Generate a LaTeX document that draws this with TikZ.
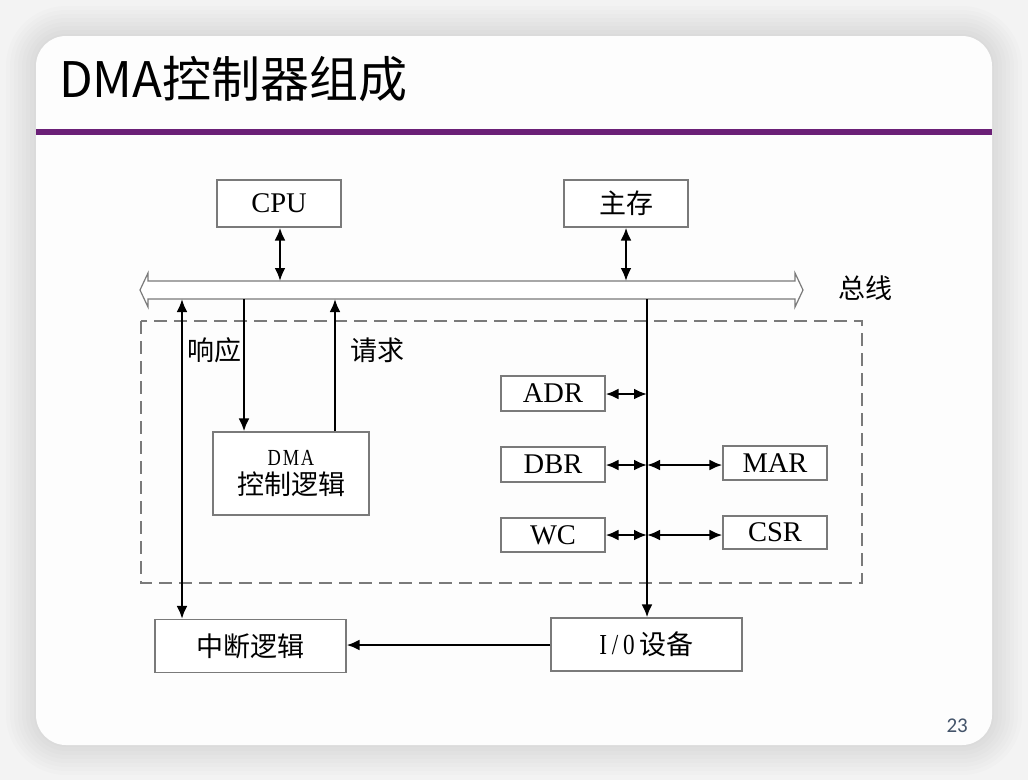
\documentclass[tikz,border=0pt]{standalone}
\usepackage{fontspec}
\setmainfont{Liberation Serif}
\newfontfamily\cjk{Noto Sans CJK SC}
\newfontfamily\halfw[FakeStretch=0.8,LetterSpace=8]{Liberation Serif}
\newfontfamily\pgnum{Carlito}
\usetikzlibrary{arrows.meta}
\definecolor{slidebg}{HTML}{F3F3F3}
\definecolor{cardbg}{HTML}{FDFDFD}
\definecolor{titlebar}{HTML}{6B2077}
\definecolor{boxline}{HTML}{7A7A7A}
\definecolor{pagenum}{HTML}{44546A}
\tikzset{
  blk/.style={draw=boxline, line width=1.3pt, fill=white, inner sep=0pt, font=\fontsize{28.5}{30}\selectfont},
  cblk/.style={blk, font=\cjk\fontsize{27}{30}\selectfont},
  conn/.style={line width=2.3pt, draw=black},
  tip/.style={-{Latex[length=13pt,width=11pt]}},
  dtip/.style={{Latex[length=13pt,width=11pt]}-{Latex[length=13pt,width=11pt]}},
  lbl/.style={font=\cjk\fontsize{27}{30}\selectfont, inner sep=0pt},
}
\begin{document}
\begin{tikzpicture}[x=1pt,y=-1pt]
\useasboundingbox (0,0) rectangle (1028,780);
\fill[slidebg] (0,0) rectangle (1028,780);
% soft shadow
\foreach \s in {30,26,...,2}{
  \fill[black, opacity=0.012, rounded corners=30pt+\s pt] (36-\s,36-\s) rectangle (992+\s,745+\s);
}
\fill[cardbg, rounded corners=30pt] (36,36) rectangle (992,745);
% title
\node[anchor=west, inner sep=0pt, font=\cjk\fontsize{49}{52}\selectfont] (title) at (59,79) {DMA控制器组成};
\fill[titlebar] (36,129) rectangle (992,135);
\node[anchor=east, inner sep=0pt, text=pagenum, font=\pgnum\fontsize{21}{23}\selectfont] (pg) at (968,726) {23};

% bus
\coordinate (bL) at (140,290);
\coordinate (bR) at (803,290);
\draw[boxline, line width=1.2pt, fill=white, line join=miter]
  (bL) -- (148,273) -- (148,281) -- (795,281) -- (795,273) -- (bR)
  -- (795,307) -- (795,299) -- (148,299) -- (148,307) -- cycle;
\node[lbl] (zx) at (865,288) {总线};

% dashed frame
\draw[boxline, line width=2pt, dash pattern=on 13pt off 7pt] (141,321) rectangle (862,583);

% boxes
\node[blk, minimum width=124pt, minimum height=47pt] (cpu) at (279,203.5) {CPU};
\node[cblk, minimum width=124pt, minimum height=47pt] (mem) at (626,203.5) {主存};
\node[blk, minimum width=156pt, minimum height=83pt, align=center] (dma) at (291,473.5)
  {{\halfw\fontsize{23}{26}\selectfont DMA}\\[-1pt]{\cjk\fontsize{27}{30}\selectfont 控制逻辑}};
\node[cblk, minimum width=191pt, minimum height=53pt] (intr) at (250.5,646) {中断逻辑};
\node[cblk, minimum width=191pt, minimum height=53pt] (io) at (646.5,644.5) {{\halfw\fontsize{29}{30}\selectfont I\,/\,0\,}设备};
\node[blk, minimum width=104pt, minimum height=35pt] (adr) at (553,393.5) {ADR};
\node[blk, minimum width=104pt, minimum height=35pt] (dbr) at (553,464.5) {DBR};
\node[blk, minimum width=104pt, minimum height=34pt] (wc) at (553,535) {WC};
\node[blk, minimum width=104pt, minimum height=34pt] (mar) at (775,463) {MAR};
\node[blk, minimum width=104pt, minimum height=33pt] (csr) at (775,532.5) {CSR};

% bus attach points
\coordinate (cpuB) at (280,281);
\coordinate (memB) at (626,281);
\coordinate (intB) at (182,299);
\coordinate (ackB) at (244,299);
\coordinate (reqB) at (335,299);
\coordinate (ioB) at (647,299);
\coordinate (jA) at (647,394);
\coordinate (jD) at (647,465);
\coordinate (jW) at (647,535);

% connectors
\draw[conn, dtip] (cpu.south -| cpuB) -- (cpuB);
\draw[conn, dtip] (mem.south -| memB) -- (memB);
\draw[conn, tip] (ackB) -- (ackB |- dma.north);
\draw[conn, tip] (reqB |- dma.north) -- (reqB);
\draw[conn, dtip] (intB) -- (intB |- intr.north);
\draw[conn, tip] (ioB) -- (ioB |- io.north);
\draw[conn, tip] (io.west |- 0,645) -- (intr.east |- 0,645);

\draw[conn, dtip] (adr.east |- jA) -- (jA);
\draw[conn, dtip] (dbr.east |- jD) -- (jD);
\draw[conn, dtip] (jD) -- (mar.west |- jD);
\draw[conn, dtip] (wc.east |- jW) -- (jW);
\draw[conn, dtip] (jW) -- (csr.west |- jW);

% labels
\node[lbl] (ack) at (214,350) {响应};
\node[lbl] (req) at (377,350) {请求};
\end{tikzpicture}
\end{document}
